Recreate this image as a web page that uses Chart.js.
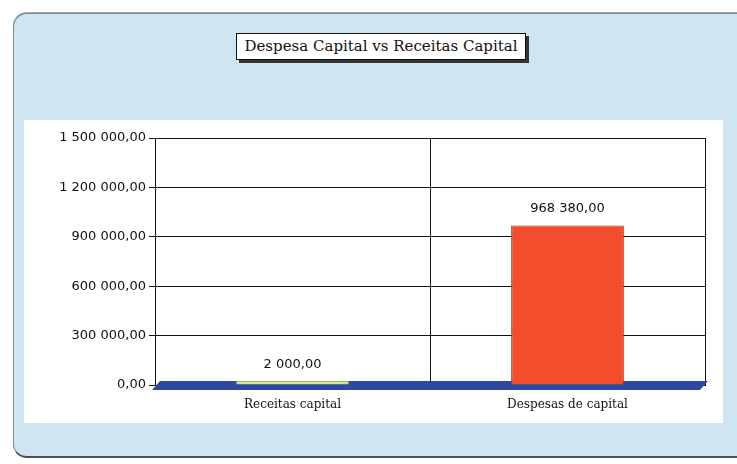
<!DOCTYPE html>
<html>
<head>
<meta charset="utf-8">
<script src="https://cdn.jsdelivr.net/npm/chart.js@4"></script>
<style>
  html, body { margin: 0; padding: 0; background: #fff; }
  #page { position: relative; width: 737px; height: 464px; overflow: hidden; background: #fff; }
  #frame {
    position: absolute; left: 13px; top: 13px; width: 740px; height: 442px;
    background: #cfe6f2; border: 1px solid #7d8c96; border-bottom: 2px solid #4a4f53;
    border-radius: 14px; box-shadow: 0 -1px 0 #9aa6ad;
  }
  #panel { position: absolute; left: 24px; top: 120px; width: 699px; height: 303px; background: #fff; }
  #title {
    position: absolute; left: 236px; top: 33px; width: 288px; height: 25px;
    background: #fff; border: 1px solid #111; box-shadow: 3px 3px 0 #333;
    font-family: "DejaVu Serif", serif; font-size: 15px; line-height: 25px;
    text-align: center; color: #111; white-space: nowrap;
  }
  #wrap { position: absolute; left: 28px; top: 122px; width: 707px; height: 302px; }
</style>
</head>
<body>
<div id="page">
  <div id="frame"></div>
  <div id="panel"></div>
  <div id="title">Despesa Capital vs Receitas Capital</div>
  <div id="wrap"><canvas id="chart" width="707" height="302"></canvas></div>
</div>
<script>
// data
var categories = ['Receitas capital', 'Despesas de capital'];
var values = [2000, 968380];
var barColors = ['#d6e98e', '#f24e2c'];
var barEdges = ['#9fb860', '#b8321a'];
var yMax = 1500000;
var yStep = 300000;

var myChart;

function fmtPt(v) {
    var parts = v.toFixed(2).split('.');
    return parts[0].replace(/\B(?=(\d{3})+(?!\d))/g, ' ') + ',' + parts[1];
}

// blue floor under the bars (3D look of the original)
var floorPlugin = {
    id: 'floor',
    beforeDatasetsDraw: function (chart) {
        var ctx = chart.ctx;
        var a = chart.chartArea;
        var y0 = chart.scales.y.getPixelForValue(0);
        ctx.save();
        ctx.fillStyle = '#2d4a9e';
        ctx.beginPath();
        ctx.moveTo(a.left - 3, y0 + 5);
        ctx.lineTo(a.left + 5, y0 - 4);
        ctx.lineTo(a.right + 3, y0 - 4);
        ctx.lineTo(a.right - 5, y0 + 5);
        ctx.closePath();
        ctx.fill();
        ctx.restore();
    }
};

// value labels above bars
var valueLabels = {
    id: 'valueLabels',
    afterDatasetsDraw: function (chart) {
        var ctx = chart.ctx;
        var meta = chart.getDatasetMeta(0);
        ctx.save();
        ctx.font = '13px "DejaVu Sans", sans-serif';
        ctx.fillStyle = '#111';
        ctx.textAlign = 'center';
        ctx.textBaseline = 'bottom';
        meta.data.forEach(function (bar, i) {
            ctx.fillText(fmtPt(values[i]), bar.x, bar.y - 10);
        });
        ctx.restore();
    }
};

myChart = new Chart(document.getElementById('chart'), {
    type: 'bar',
    data: {
        labels: categories,
        datasets: [{
            data: values,
            backgroundColor: barColors,
            borderColor: barEdges,
            borderWidth: 1,
            barPercentage: 0.82,
            categoryPercentage: 0.5,
            minBarLength: 4
        }]
    },
    options: {
        responsive: false,
        animation: false,
        devicePixelRatio: 1,
        layout: { padding: { top: 16, right: 30, left: 0, bottom: 0 } },
        plugins: {
            legend: { display: false },
            tooltip: { enabled: false }
        },
        scales: {
            x: {
                offset: true,
                grid: { color: '#111', lineWidth: 1, drawTicks: false, offset: true },
                border: { color: '#111' },
                ticks: {
                    padding: 13,
                    maxRotation: 0,
                    color: '#111',
                    font: { family: '"DejaVu Serif", serif', size: 12 }
                },
                afterFit: function (scale) { scale.height = 39; }
            },
            y: {
                min: 0,
                max: yMax,
                grid: { color: '#111', lineWidth: 1, tickLength: 6 },
                border: { color: '#111' },
                ticks: {
                    stepSize: yStep,
                    padding: 3,
                    color: '#111',
                    font: { family: '"DejaVu Sans", sans-serif', size: 13 },
                    callback: function (v) { return fmtPt(v); }
                },
                afterFit: function (scale) { scale.width = 127; }
            }
        }
    },
    plugins: [floorPlugin, valueLabels]
});
</script>
</body>
</html>
